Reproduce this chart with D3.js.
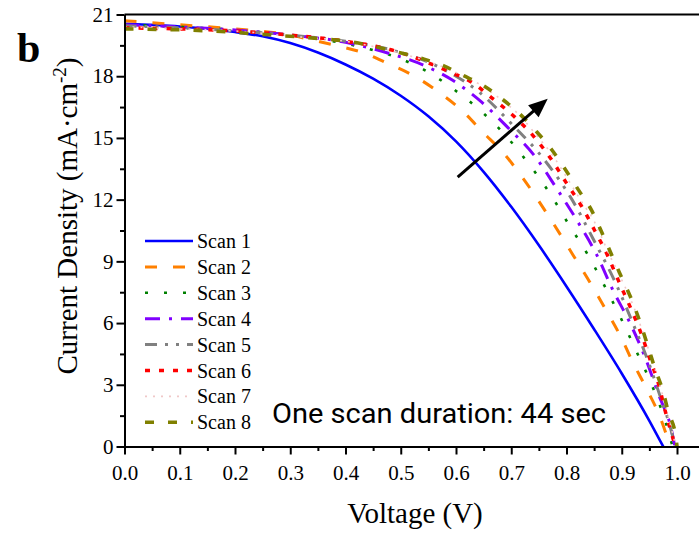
<!DOCTYPE html>
<html>
<head>
<meta charset="utf-8">
<script src="https://cdn.jsdelivr.net/npm/d3@7"></script>
<style>
    body { margin: 0; background: #fff; }
    svg { display: block; }
</style>
</head>
<body>
<svg id="chart-svg" width="699" height="533"></svg>
<script>
// J-V data, [voltage (V), current density (mA/cm2)]
let scan1 = [[0, 20.55], [0.1, 20.42], [0.2, 20.15], [0.25, 19.94], [0.3, 19.61], [0.35, 19.15], [0.4, 18.57],
    [0.45, 17.88], [0.5, 17.05], [0.55, 16.05], [0.6, 14.83], [0.65, 13.35], [0.7, 11.65], [0.75, 9.78],
    [0.8, 7.78], [0.85, 5.7], [0.9, 3.55], [0.95, 1.25], [0.975, 0]];
let scan2 = [[0, 20.7], [0.1, 20.5], [0.2, 20.3], [0.3, 20.0], [0.341, 19.75], [0.389, 19.45], [0.431, 19.15],
    [0.476, 18.63], [0.525, 18.0], [0.57, 17.2], [0.612, 16.3], [0.648, 15.3], [0.688, 14.2], [0.721, 13.05],
    [0.77, 11.1], [0.812, 9.3], [0.842, 8.0], [0.87, 6.7], [0.897, 5.4], [0.92, 4.1], [0.945, 2.8],
    [0.969, 1.45], [0.988, 0]];
let scan3 = [[0, 20.5], [0.1, 20.4], [0.2, 20.25], [0.3, 20.0], [0.431, 19.4], [0.489, 18.95], [0.543, 18.3],
    [0.594, 17.4], [0.639, 16.45], [0.687, 15.2], [0.73, 13.8], [0.77, 12.3], [0.804, 10.8], [0.838, 9.35],
    [0.87, 7.75], [0.9, 6.15], [0.927, 4.6], [0.955, 2.95], [0.978, 1.3], [0.992, 0]];
let scan4 = [[0, 20.5], [0.1, 20.4], [0.2, 20.25], [0.3, 20.0], [0.4, 19.65], [0.48, 19.1], [0.54, 18.55],
    [0.594, 17.8], [0.646, 16.75], [0.694, 15.5], [0.743, 14.1], [0.782, 12.55], [0.821, 10.9], [0.855, 9.3],
    [0.884, 7.6], [0.915, 6.0], [0.942, 4.35], [0.967, 2.5], [0.99, 0.8], [0.996, 0]];
let scan5 = [[0, 20.45], [0.1, 20.35], [0.2, 20.2], [0.3, 20.0], [0.4, 19.7], [0.48, 19.3], [0.58, 18.3],
    [0.643, 17.2], [0.7, 15.7], [0.761, 13.9], [0.81, 12.0], [0.85, 10.0], [0.888, 8.0], [0.92, 6.0],
    [0.947, 4.2], [0.97, 2.4], [0.985, 1.2], [0.997, 0]];
let scan6 = [[0, 20.35], [0.1, 20.3], [0.2, 20.2], [0.3, 20.0], [0.4, 19.7], [0.48, 19.3], [0.589, 18.2],
    [0.629, 17.7], [0.667, 16.9], [0.707, 16.0], [0.743, 15.0], [0.774, 13.9], [0.8, 12.8], [0.828, 11.65],
    [0.851, 10.5], [0.875, 9.25], [0.895, 8.0], [0.915, 6.8], [0.935, 5.5], [0.951, 4.25], [0.967, 3.0],
    [0.978, 1.8], [0.997, 0]];
let scan7 = [[0, 20.4], [0.1, 20.3], [0.2, 20.2], [0.3, 19.95], [0.4, 19.7], [0.48, 19.25], [0.59, 18.3],
    [0.64, 17.65], [0.68, 16.9], [0.715, 16.1], [0.745, 15.15], [0.775, 14.15], [0.8, 13.1], [0.825, 12.0],
    [0.85, 10.95], [0.878, 9.3], [0.9, 8.1], [0.92, 6.9], [0.935, 5.8], [0.95, 4.6], [0.965, 3.35],
    [0.98, 1.9], [0.998, 0]];
let scan8 = [[0, 20.3], [0.156, 20.2], [0.24, 20.05], [0.32, 19.9], [0.415, 19.65], [0.49, 19.2], [0.54, 18.85],
    [0.578, 18.5], [0.612, 18.05], [0.649, 17.55], [0.683, 16.9], [0.716, 16.15], [0.746, 15.3], [0.774, 14.4],
    [0.797, 13.5], [0.821, 12.5], [0.846, 11.45], [0.864, 10.4], [0.882, 9.3], [0.9, 8.2], [0.917, 7.2],
    [0.933, 6.05], [0.947, 4.9], [0.96, 3.8], [0.975, 2.65], [0.984, 1.7], [0.998, 0.45], [1.0, 0]];

let scanNames = ['Scan 1', 'Scan 2', 'Scan 3', 'Scan 4', 'Scan 5', 'Scan 6', 'Scan 7', 'Scan 8'];
let scanData = [scan1, scan2, scan3, scan4, scan5, scan6, scan7, scan8];

let xMajorTicks = [0, 0.1, 0.2, 0.3, 0.4, 0.5, 0.6, 0.7, 0.8, 0.9, 1.0];
let xMinorTicks = [0.05, 0.15, 0.25, 0.35, 0.45, 0.55, 0.65, 0.75, 0.85, 0.95];
let yMajorTicks = [0, 3, 6, 9, 12, 15, 18, 21];
let yMinorTicks = [1.5, 4.5, 7.5, 10.5, 13.5, 16.5, 19.5];

// Arrow showing the trend between scans, [V, J]
let arrowStart = [0.603, 13.1];
let arrowEnd = [0.766, 16.9];

// Line style per scan
let scanStyles = [
    {color: '#0000ff', width: 2.6, dash: null},
    {color: '#ff8000', width: 3, dash: '12,16'},
    {color: '#008000', width: 2.6, dash: '3,16'},
    {color: '#8000ff', width: 3, dash: '15,9,3,9'},
    {color: '#808080', width: 3, dash: '12,8,3,8,3,8'},
    {color: '#ff0000', width: 3.5, dash: '5,9'},
    {color: '#f0c8c8', width: 1.6, dash: '2,6'},
    {color: '#808000', width: 3.6, dash: '9,14'}
];

let svg = d3.select('#chart-svg');
let serif = "'Liberation Serif', 'Times New Roman', serif";

// Scales
let xScale = d3.scaleLinear()
    .domain([0, 1.04])
    .range([124.5, 699.1]);

let yScale = d3.scaleLinear()
    .domain([0, 21])
    .range([446.5, 14.5]);

svg.append('defs').append('clipPath')
    .attr('id', 'plot-clip')
    .append('rect')
    .attr('x', 124.5)
    .attr('y', 14.5)
    .attr('width', 699 - 124.5)
    .attr('height', 446.5 - 14.5);

// Curves
let line = d3.line()
    .x(d => xScale(d[0]))
    .y(d => yScale(d[1]))
    .curve(d3.curveMonotoneX);

let gPaths = svg.append('g')
    .attr('clip-path', 'url(#plot-clip)');

gPaths.selectAll('path')
    .data(scanData)
    .join('path')
    .attr('d', line)
    .attr('fill', 'none')
    .attr('stroke', (d, i) => scanStyles[i].color)
    .attr('stroke-width', (d, i) => scanStyles[i].width)
    .attr('stroke-dasharray', (d, i) => scanStyles[i].dash);

// Axes
let xAxis = svg.append('g')
    .attr('transform', 'translate(0,' + yScale(0) + ')')
    .call(d3.axisBottom(xScale).tickValues(xMajorTicks).tickSize(8).tickSizeOuter(0)
        .tickFormat(d3.format('.1f')));
xAxis.append('g')
    .call(d3.axisBottom(xScale).tickValues(xMinorTicks).tickSize(4.5).tickSizeOuter(0).tickFormat(''))
    .select('.domain').remove();

let yAxis = svg.append('g')
    .attr('transform', 'translate(' + xScale(0) + ',0)')
    .call(d3.axisLeft(yScale).tickValues(yMajorTicks).tickSize(8).tickSizeOuter(0));
yAxis.append('g')
    .call(d3.axisLeft(yScale).tickValues(yMinorTicks).tickSize(4.5).tickSizeOuter(0).tickFormat(''))
    .select('.domain').remove();

svg.selectAll('.domain, .tick line')
    .attr('stroke', '#000')
    .attr('stroke-width', 2);

xAxis.selectAll('.tick text')
    .attr('font-family', serif)
    .attr('font-size', 21)
    .attr('fill', '#000')
    .attr('dy', '1.05em');

yAxis.selectAll('.tick text')
    .attr('font-family', serif)
    .attr('font-size', 21)
    .attr('fill', '#000')
    .attr('x', -11);

// Top frame line
svg.append('line')
    .attr('x1', xScale(0))
    .attr('x2', xScale(1.04))
    .attr('y1', yScale(21))
    .attr('y2', yScale(21))
    .attr('stroke', '#000')
    .attr('stroke-width', 2);

// Axis titles
svg.append('text')
    .attr('x', 415)
    .attr('y', 523)
    .attr('text-anchor', 'middle')
    .attr('font-family', serif)
    .attr('font-size', 29)
    .text('Voltage (V)');

let yTitle = svg.append('text')
    .attr('transform', 'translate(77,216) rotate(-90)')
    .attr('text-anchor', 'middle')
    .attr('font-family', serif)
    .attr('font-size', 29);
yTitle.append('tspan').text('Current Density (mA\u00b7cm');
yTitle.append('tspan').attr('dy', -11).attr('font-size', 19).text('-2');
yTitle.append('tspan').attr('dy', 11).text(')');

// Panel letter
svg.append('text')
    .attr('x', 17)
    .attr('y', 62)
    .attr('font-family', serif)
    .attr('font-weight', 'bold')
    .attr('font-size', 42)
    .text('b');

// Legend
let legend = svg.append('g');
let legendRows = legend.selectAll('g')
    .data(scanNames)
    .join('g')
    .attr('transform', (d, i) => 'translate(0,' + (241 + i * 25.9) + ')');

legendRows.append('line')
    .attr('x1', 145)
    .attr('x2', 193)
    .attr('stroke', (d, i) => scanStyles[i].color)
    .attr('stroke-width', (d, i) => scanStyles[i].width)
    .attr('stroke-dasharray', (d, i) => scanStyles[i].dash);

legendRows.append('text')
    .attr('x', 197)
    .attr('y', 7)
    .attr('font-family', serif)
    .attr('font-size', 20)
    .text(d => d);

// Annotation
svg.append('text')
    .attr('x', 272)
    .attr('y', 423)
    .attr('font-family', "'Roboto', 'DejaVu Sans', sans-serif")
    .attr('font-size', 28)
    .attr('textLength', 334)
    .attr('lengthAdjust', 'spacingAndGlyphs')
    .text('One scan duration: 44 sec');

// Arrow
let ax0 = xScale(arrowStart[0]), ay0 = yScale(arrowStart[1]);
let ax1 = xScale(arrowEnd[0]), ay1 = yScale(arrowEnd[1]);
let angle = Math.atan2(ay1 - ay0, ax1 - ax0);
let headLength = 19, headHalf = 8;
let bx = ax1 - headLength * Math.cos(angle), by = ay1 - headLength * Math.sin(angle);

svg.append('line')
    .attr('x1', ax0)
    .attr('y1', ay0)
    .attr('x2', bx + 2 * Math.cos(angle))
    .attr('y2', by + 2 * Math.sin(angle))
    .attr('stroke', '#000')
    .attr('stroke-width', 3);

svg.append('path')
    .attr('d', 'M' + ax1 + ',' + ay1 +
        'L' + (bx + headHalf * Math.sin(angle)) + ',' + (by - headHalf * Math.cos(angle)) +
        'L' + (bx - headHalf * Math.sin(angle)) + ',' + (by + headHalf * Math.cos(angle)) + 'Z')
    .attr('fill', '#000');
</script>
</body>
</html>
